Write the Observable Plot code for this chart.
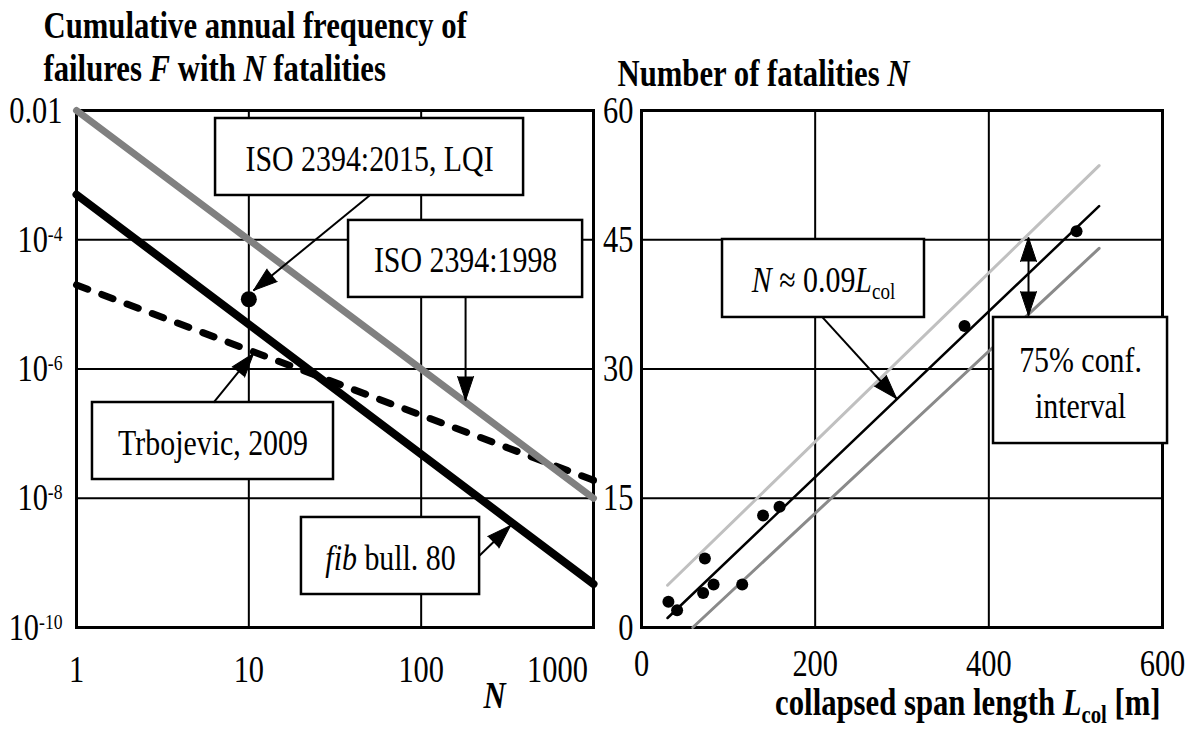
<!DOCTYPE html>
<html><head><meta charset="utf-8">
<script src="https://cdn.jsdelivr.net/npm/d3@7"></script>
<script src="https://cdn.jsdelivr.net/npm/@observablehq/plot@0.6"></script>
<style>
html,body{margin:0;padding:0;background:#fff;overflow:hidden;}
#wrap{position:relative;width:1190px;height:733px;}
#wrap svg{position:absolute;top:0;overflow:visible;max-width:none;background:transparent;}
</style></head>
<body><div id="wrap"></div>
<script>
// ---------- Left panel: F–N curves ----------
const fnN = [1, 1000];
const iso1998F = [1e-2, 1e-8];
const fib80F = [5e-4, 4.7e-10];
const trbojevicF = [2.0e-5, 1.9e-8];
const lqiN = [10];
const lqiF = [1.2e-5];
const fnXTicks = [1, 10, 100];
const fnXTickLast = [1000];
const fnYTicks = [1e-2, 1e-4, 1e-6, 1e-8, 1e-10];
const fnBoxLabels = ["ISO 2394:2015, LQI", "ISO 2394:1998", "Trbojevic, 2009", "fib bull. 80"];

// ---------- Right panel: fatalities vs collapsed span length ----------
const spanL  = [31, 41, 71, 73, 83, 116, 140, 159, 372, 501];
const fatalN = [3, 2, 4, 8, 5, 5, 13, 14, 35, 46];
const fitL = [30, 527],   fitN = [1.1, 48.9];
const upperL = [30, 527], upperN = [4.9, 53.6];
const lowerL = [59, 527], lowerN = [0, 44];
const spanXTicks = [0, 200, 400, 600];
const spanYTicks = [0, 15, 30, 45, 60];
const confLabels = ["75% conf.", "interval"];
const fitLabel = "N ≈ 0.09Lcol";

// ---------- Annotation layout (positions in data units) ----------
const leftBoxPos = [
  {x1: 6.41, x2: 392.9, y1: 7.52e-3, y2: 4.84e-4},
  {x1: 37.9, x2: 864.6, y1: 1.99e-4, y2: 1.28e-5},
  {x1: 1.238, x2: 31.0, y1: 3.03e-7, y2: 1.95e-8},
  {x1: 20.2, x2: 218.3, y1: 5.04e-9, y2: 3.24e-10}
];
const leftArrowPos = [
  {x1: 50.2, y1: 4.84e-4, x2: 10.65, y2: 1.64e-5, rotate: 230.7},
  {x1: 181, y1: 1.28e-5, x2: 181, y2: 3.26e-7, rotate: 180},
  {x1: 6.24, y1: 3.03e-7, x2: 10.65, y2: 1.74e-6, rotate: 39.2},
  {x1: 218.3, y1: 1.30e-9, x2: 330.3, y2: 3.79e-9, rotate: 45.9}
];
const rightBoxPos = [
  {x1: 93.3, x2: 325.9, y1: 45.03, y2: 35.98},
  {x1: 405.4, x2: 605.8, y1: 35.98, y2: 21.35}
];
const rightArrowPos = [{x1: 208.5, y1: 36.0, x2: 293.7, y2: 26.58, rotate: 137.6}];
const confArrowPos = [{x: 445.7, y1: 45.26, y2: 36.2}];
const confLabelPos = [{x: 505.6, y: 31.0}, {x: 505.6, y: 25.65}];

// ---------- tables ----------
const toLine = (xs, ys) => xs.map((x, i) => ({x, y: ys[i]}));
const iso1998 = toLine(fnN, iso1998F);
const fib80 = toLine(fnN, fib80F);
const trbojevic = toLine(fnN, trbojevicF);
const lqi = toLine(lqiN, lqiF);
const leftBoxes = leftBoxPos.map((b, i) => ({...b, label: fnBoxLabels[i]}));
const scatter = toLine(spanL, fatalN);
const fit = toLine(fitL, fitN), upper = toLine(upperL, upperN), lower = toLine(lowerL, lowerN);
const confText = confLabelPos.map((p, i) => ({...p, label: confLabels[i]}));

const FONT = "'Liberation Serif', 'Times New Roman', serif";
const grid = {stroke: "#000", strokeOpacity: 1, strokeWidth: 2};
const TICK = 38;
const head = {length: 24, r: 8, shape: "spike", anchor: "end", fill: "#000", fillOpacity: 1, stroke: "#000", strokeWidth: 1};

const left = Plot.plot({
  width: 620, height: 733,
  marginLeft: 76, marginRight: 27, marginTop: 110, marginBottom: 106,
  style: {fontFamily: FONT, fontSize: "36px"},
  x: {type: "log", domain: [1, 1000]},
  y: {type: "log", domain: [1e-10, 1e-2]},
  marks: [
    Plot.gridX([10, 100], grid),
    Plot.gridY([1e-8, 1e-6, 1e-4], grid),
    Plot.frame({stroke: "#000", strokeWidth: 3}),
    Plot.axisX(fnXTicks, {tickSize: 0, tickPadding: 28, fontSize: TICK, label: null, tickFormat: d => String(d)}),
    Plot.axisX(fnXTickLast, {tickSize: 0, tickPadding: 28, fontSize: TICK, label: null, dx: -36, tickFormat: d => String(d)}),
    Plot.axisY(fnYTicks, {tickSize: 0, tickPadding: 14, fontSize: TICK, label: null,
      tickFormat: d => d === 1e-2 ? "0.01" : "10^" + Math.round(Math.log10(d))}),
    Plot.line(trbojevic, {x: "x", y: "y", stroke: "#000", strokeWidth: 7, strokeDasharray: "12,15", strokeLinecap: "round"}),
    Plot.dot([trbojevic[1]], {x: "x", y: "y", r: 3.5, fill: "#000"}),
    Plot.line(iso1998, {x: "x", y: "y", stroke: "#808080", strokeWidth: 7, strokeLinecap: "round"}),
    Plot.line(fib80, {x: "x", y: "y", stroke: "#000", strokeWidth: 8, strokeLinecap: "round"}),
    Plot.dot(lqi, {x: "x", y: "y", r: 8, fill: "#000"}),
    Plot.rect(leftBoxes, {x1: "x1", x2: "x2", y1: "y1", y2: "y2", fill: "#fff", stroke: "#000", strokeWidth: 2.5}),
    Plot.text(leftBoxes, {x: d => Math.sqrt(d.x1 * d.x2), y: d => Math.sqrt(d.y1 * d.y2), text: "label", fontSize: 36, lineAnchor: "middle", dy: 2}),
    Plot.link(leftArrowPos, {x1: "x1", y1: "y1", x2: "x2", y2: "y2", stroke: "#000", strokeWidth: 2}),
    Plot.vector(leftArrowPos, {x: "x2", y: "y2", rotate: "rotate", ...head}),
    Plot.text(["Cumulative annual frequency of"], {text: d => d, frameAnchor: "top-left", textAnchor: "start", lineAnchor: "middle", dx: -33, dy: -84, fontSize: 37, fontWeight: "bold"}),
    Plot.text(["failures F with N fatalities"], {text: d => d, frameAnchor: "top-left", textAnchor: "start", lineAnchor: "middle", dx: -33, dy: -41, fontSize: 37, fontWeight: "bold"}),
    Plot.text(["N"], {text: d => d, frameAnchor: "bottom-left", textAnchor: "middle", lineAnchor: "middle", dx: 418, dy: 68.5, fontSize: 37, fontWeight: "bold", fontStyle: "italic"})
  ]
});

const right = Plot.plot({
  width: 610, height: 733,
  marginLeft: 61, marginRight: 28, marginTop: 110, marginBottom: 106,
  style: {fontFamily: FONT, fontSize: "36px"},
  x: {domain: [0, 600]},
  y: {domain: [0, 60]},
  marks: [
    Plot.gridX([200, 400], grid),
    Plot.gridY([15, 30, 45], grid),
    Plot.frame({stroke: "#000", strokeWidth: 3}),
    Plot.axisX(spanXTicks, {tickSize: 0, tickPadding: 22, fontSize: TICK, label: null}),
    Plot.axisY(spanYTicks, {tickSize: 0, tickPadding: 8, fontSize: TICK, label: null}),
    Plot.line(upper, {x: "x", y: "y", stroke: "#c0c0c0", strokeWidth: 3}),
    Plot.line(lower, {x: "x", y: "y", stroke: "#8a8a8a", strokeWidth: 3}),
    Plot.line(fit, {x: "x", y: "y", stroke: "#000", strokeWidth: 2.5}),
    Plot.dot(scatter, {x: "x", y: "y", r: 6, fill: "#000"}),
    Plot.link(confArrowPos, {x1: "x", x2: "x", y1: "y1", y2: "y2", stroke: "#000", strokeWidth: 2}),
    Plot.vector(confArrowPos, {x: "x", y: "y1", rotate: 0, ...head}),
    Plot.vector(confArrowPos, {x: "x", y: "y2", rotate: 180, ...head}),
    Plot.rect(rightBoxPos, {x1: "x1", x2: "x2", y1: "y1", y2: "y2", fill: "#fff", stroke: "#000", strokeWidth: 2.5}),
    Plot.text([fitLabel], {text: d => d, x: (rightBoxPos[0].x1 + rightBoxPos[0].x2) / 2, y: (rightBoxPos[0].y1 + rightBoxPos[0].y2) / 2, fontSize: 36, lineAnchor: "middle", dy: 2}),
    Plot.text(confText, {x: "x", y: "y", text: "label", fontSize: 36, lineAnchor: "middle"}),
    Plot.link(rightArrowPos, {x1: "x1", y1: "y1", x2: "x2", y2: "y2", stroke: "#000", strokeWidth: 2}),
    Plot.vector(rightArrowPos, {x: "x2", y: "y2", rotate: "rotate", ...head}),
    Plot.text(["Number of fatalities N"], {text: d => d, frameAnchor: "top-left", textAnchor: "start", lineAnchor: "middle", dx: -24, dy: -36, fontSize: 37, fontWeight: "bold"}),
    Plot.text(["collapsed span length Lcol [m]"], {text: d => d, frameAnchor: "bottom-right", textAnchor: "end", lineAnchor: "middle", dx: -2, dy: 76, fontSize: 37, fontWeight: "bold"})
  ]
});

// ---------- rich text & condensed type ----------
const NS = "http://www.w3.org/2000/svg";
function rich(svg, match, partsFn) {
  svg.querySelectorAll("text").forEach(t => {
    const s = t.textContent;
    const ok = typeof match === "function" ? match(s) : s === match;
    if (!ok) return;
    const parts = partsFn(s);
    t.textContent = "";
    for (const p of parts) {
      const ts = document.createElementNS(NS, "tspan");
      ts.textContent = p.t;
      if (p.i) ts.setAttribute("font-style", "italic");
      if (p.size) ts.setAttribute("font-size", p.size);
      if (p.dy) ts.setAttribute("dy", p.dy);
      t.appendChild(ts);
    }
  });
}
function condense(svg, s, selector = "text") {
  svg.querySelectorAll(selector).forEach(t => {
    if (t.dataset.condensed) return;
    t.dataset.condensed = "1";
    let tr = t.getAttribute("transform") || "";
    const x = t.getAttribute("x"), y = t.getAttribute("y");
    let tx = 0, ty = 0;
    if (x != null && /^-?[\d.]+$/.test(x)) { tx = +x; t.removeAttribute("x"); }
    if (y != null && /^-?[\d.]+$/.test(y)) { ty = +y; t.removeAttribute("y"); }
    if (tx || ty) tr += ` translate(${tx},${ty})`;
    t.setAttribute("transform", (tr + ` scale(${s},1)`).trim());
  });
}
rich(left, s => s.startsWith("10^"), s => [{t: "10"}, {t: s.slice(3), size: "22px", dy: "-11"}]);
rich(left, "fib bull. 80", () => [{t: "fib", i: true}, {t: " bull. 80"}]);
rich(left, "failures F with N fatalities", () => [{t: "failures "}, {t: "F", i: true}, {t: " with "}, {t: "N", i: true}, {t: " fatalities"}]);
rich(right, fitLabel, () => [{t: "N", i: true}, {t: " ≈ 0.09"}, {t: "L", i: true}, {t: "col", size: "23px", dy: "7"}]);
rich(right, "Number of fatalities N", () => [{t: "Number of fatalities "}, {t: "N", i: true}]);
rich(right, "collapsed span length Lcol [m]", () => [{t: "collapsed span length "}, {t: "L", i: true}, {t: "col", size: "25px", dy: "8"}, {t: " [m]", dy: "-8"}]);
for (const svg of [left, right]) {
  condense(svg, 0.8, 'g[aria-label$="tick label"] text');
  condense(svg, 0.83);
}

left.style.left = "0px";
right.style.left = "580px";
const wrap = document.getElementById("wrap");
wrap.appendChild(left);
wrap.appendChild(right);
</script>
</body></html>
